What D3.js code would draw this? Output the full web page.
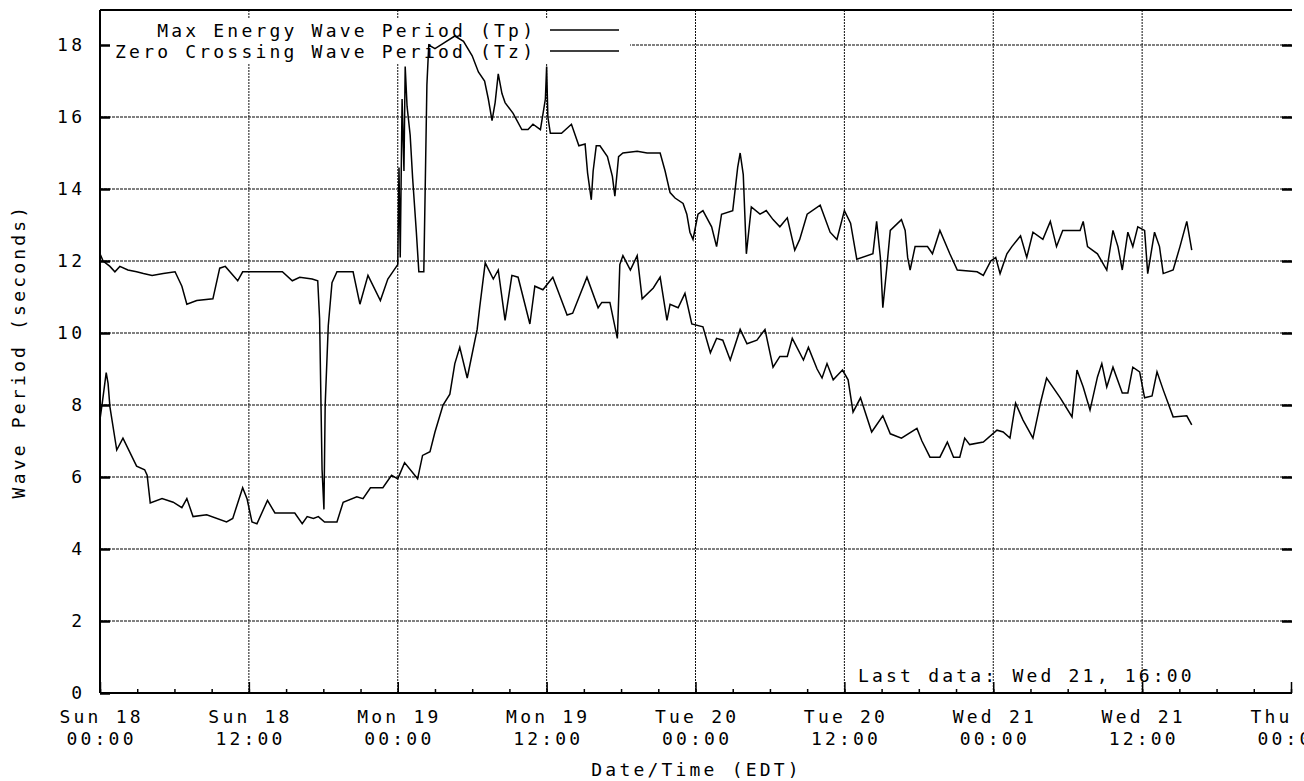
<!DOCTYPE html>
<html><head><meta charset="utf-8">
<script src="https://cdn.jsdelivr.net/npm/d3@7"></script>
<style>
html,body{margin:0;padding:0;background:#fff;overflow:hidden}
text{font-family:'DejaVu Sans Mono',monospace;font-size:18px;letter-spacing:3.2px;fill:#000}
</style></head><body><svg id="c" width="1304" height="781"></svg>
<script>
const seriesNames = ["Max Energy Wave Period (Tp)", "Zero Crossing Wave Period (Tz)"];

// Hours after Sun 18 00:00 (EDT) and wave periods in seconds
const tpHours = [0,0.25,0.8,1.2,1.6,2.25,2.95,3.5,4.2,5.1,6.05,6.6,7.0,7.8,9.1,9.65,10.1,11.1,11.5,13.4,14.7,15.5,16.1,17.1,17.55,17.7,17.9,18.05,18.15,18.4,18.7,19.1,20.4,20.95,21.6,22.6,23.2,24.0,24.1,24.2,24.35,24.5,24.6,24.75,25.0,25.2,25.5,25.7,26.1,26.25,26.35,26.5,27.0,27.7,28.6,29.3,30.0,30.5,31.0,31.3,31.6,31.85,32.1,32.4,32.65,33.3,34.0,34.5,34.9,35.5,35.9,36.0,36.1,36.3,37.2,38.0,38.6,39.1,39.3,39.6,39.75,40.0,40.3,40.9,41.3,41.5,41.8,42.15,43.3,44.1,45.15,45.55,45.95,46.35,47.0,47.3,47.55,47.8,48.2,48.6,49.3,49.7,50.1,51.0,51.4,51.6,51.85,52.1,52.5,53.2,53.7,54.25,54.8,55.4,56.0,56.4,57.0,58.05,58.85,59.4,60.0,60.5,61.0,62.3,62.6,62.9,63.1,63.4,63.7,64.6,64.9,65.1,65.3,65.7,66.7,67.1,67.7,68.5,69.1,70.7,71.2,71.8,72.2,72.55,73.1,73.5,74.2,74.7,75.2,76.0,76.6,77.1,77.6,79.0,79.25,79.6,80.4,81.15,81.65,82.05,82.4,82.85,83.25,83.65,84.2,84.45,85.0,85.4,85.7,86.5,87.05,87.6,88.0];
const tpValues = [12.2,12.0,11.85,11.7,11.85,11.75,11.7,11.65,11.6,11.65,11.7,11.3,10.8,10.9,10.95,11.8,11.85,11.45,11.7,11.7,11.7,11.45,11.55,11.5,11.45,10.4,6.2,5.1,8.0,10.2,11.4,11.7,11.7,10.8,11.6,10.9,11.5,11.9,14.6,12.1,16.5,14.5,17.4,16.3,15.5,14.3,12.8,11.7,11.7,14.8,16.9,18.0,17.9,18.05,18.25,18.1,17.7,17.25,17.0,16.5,15.9,16.4,17.2,16.65,16.4,16.1,15.65,15.65,15.8,15.65,16.5,17.4,16.0,15.55,15.55,15.8,15.2,15.25,14.45,13.7,14.5,15.2,15.2,14.9,14.35,13.8,14.9,15.0,15.05,15.0,15.0,14.5,13.9,13.75,13.6,13.3,12.8,12.6,13.3,13.4,12.95,12.4,13.3,13.4,14.6,15.0,14.4,12.2,13.5,13.3,13.4,13.15,12.95,13.2,12.3,12.6,13.3,13.55,12.8,12.6,13.4,13.05,12.05,12.2,13.1,12.1,10.7,11.75,12.85,13.15,12.85,12.1,11.75,12.4,12.4,12.2,12.85,12.2,11.75,11.7,11.6,12.0,12.1,11.65,12.2,12.4,12.7,12.1,12.8,12.6,13.1,12.4,12.85,12.85,13.1,12.4,12.2,11.75,12.85,12.4,11.75,12.8,12.4,12.95,12.85,11.65,12.8,12.4,11.65,11.75,12.4,13.1,12.3];

const tzHours = [0,0.2,0.5,0.65,0.8,1.35,1.85,2.95,3.6,3.8,4.05,5.0,5.9,6.6,7.0,7.5,8.6,10.2,10.7,11.5,11.85,12.25,12.65,13.5,14.1,15.7,16.3,16.7,17.2,17.6,18.1,19.1,19.6,20.7,21.2,21.8,22.8,23.5,24.0,24.55,25.6,26.0,26.6,27.0,27.65,28.2,28.6,29.0,29.6,30.4,30.6,31.05,31.7,32.1,32.65,33.2,33.7,34.65,35.05,35.7,36.5,37.65,38.1,39.25,40.15,40.45,41.1,41.7,41.9,42.15,42.75,43.3,43.7,44.6,45.15,45.7,45.95,46.6,47.15,47.7,48.6,49.2,49.7,50.2,50.8,51.6,52.15,52.95,53.6,54.25,54.8,55.4,55.8,56.7,57.1,57.8,58.2,58.6,59.1,59.5,59.85,60.3,60.7,61.3,62.2,63.1,63.7,64.6,65.85,66.25,66.9,67.7,68.3,68.8,69.3,69.7,70.1,71.2,72.3,72.8,73.35,73.8,74.4,75.2,75.8,76.3,77.4,78.35,78.75,79.25,79.8,80.4,80.75,81.15,81.65,82.4,82.85,83.25,83.8,84.2,84.8,85.2,85.7,86.5,87.6,88.0];
const tzValues = [7.6,8.1,8.9,8.6,7.95,6.75,7.08,6.3,6.2,6.05,5.28,5.4,5.3,5.15,5.4,4.9,4.95,4.75,4.85,5.7,5.4,4.75,4.7,5.35,5.0,5.0,4.7,4.9,4.85,4.9,4.75,4.75,5.3,5.45,5.4,5.7,5.7,6.05,5.95,6.4,5.95,6.6,6.7,7.25,8.0,8.3,9.15,9.6,8.75,10.1,10.7,11.95,11.5,11.75,10.35,11.6,11.55,10.25,11.3,11.2,11.55,10.5,10.55,11.55,10.7,10.85,10.85,9.85,11.9,12.15,11.75,12.15,10.95,11.25,11.55,10.35,10.8,10.7,11.1,10.25,10.17,9.45,9.85,9.8,9.25,10.1,9.7,9.8,10.1,9.05,9.35,9.35,9.85,9.25,9.6,9.0,8.75,9.15,8.7,8.85,8.97,8.7,7.8,8.2,7.25,7.7,7.2,7.08,7.35,7.0,6.55,6.55,6.97,6.55,6.55,7.08,6.9,6.97,7.3,7.25,7.08,8.05,7.58,7.08,8.05,8.75,8.2,7.67,8.97,8.5,7.86,8.78,9.15,8.5,9.05,8.33,8.33,9.05,8.92,8.2,8.25,8.92,8.42,7.67,7.7,7.45];

const yTicks = [0,2,4,6,8,10,12,14,16,18];
const xTickHours = [0,12,24,36,48,60,72,84,96];
const xTickDays = ["Sun 18","Sun 18","Mon 19","Mon 19","Tue 20","Tue 20","Wed 21","Wed 21","Thu 22"];
const xTickTimes = ["00:00","12:00","00:00","12:00","00:00","12:00","00:00","12:00","00:00"];
const xTitle = "Date/Time (EDT)";
const yTitle = "Wave Period (seconds)";
const lastDataLabel = "Last data: Wed 21, 16:00";

const LS = 3.2;
const start = Date.UTC(2005, 8, 18, 0, 0);
const toDate = h => new Date(start + h * 3600000);

const svg = d3.select("#c");
const L = 100, R = 1292, T = 10, B = 693;
const x = d3.scaleUtc().domain([toDate(0), toDate(96)]).range([100, 1291]);
const y = d3.scaleLinear().domain([0, 19]).range([693, 9]);

// horizontal gridlines
svg.append("g").selectAll("line").data(yTicks.filter(d => d > 0)).join("line")
  .attr("x1", L).attr("x2", R).attr("y1", d => y(d)).attr("y2", d => y(d))
  .attr("stroke", "#000").attr("stroke-width", 1).attr("stroke-dasharray", "3,1");
// vertical gridlines
svg.append("g").selectAll("line").data(xTickHours.filter(h => h > 0 && h < 96)).join("line")
  .attr("x1", h => x(toDate(h))).attr("x2", h => x(toDate(h)))
  .attr("y1", T).attr("y2", B)
  .attr("stroke", "#111").attr("stroke-width", 1).attr("stroke-dasharray", "2,1");

// legend background
svg.append("rect").attr("x", L + 1).attr("y", 19).attr("width", 529).attr("height", 44).attr("fill", "#fff");

// frame
svg.append("line").attr("x1", L).attr("x2", R).attr("y1", T).attr("y2", T).attr("stroke", "#000").attr("stroke-width", 2);
svg.append("line").attr("x1", L).attr("x2", L).attr("y1", T).attr("y2", B).attr("stroke", "#000").attr("stroke-width", 2);

// bottom axis with minor (3h) and major (12h) ticks
const xMinor = d3.axisBottom(x).ticks(d3.utcHour.every(3)).tickSize(-4).tickFormat("");
const gx = svg.append("g").attr("transform", `translate(0,${B})`).call(xMinor);
gx.select(".domain").attr("d", `M${L},0H${R}`).attr("stroke", "#000").attr("stroke-width", 2);
gx.selectAll(".tick line").attr("stroke", "#000").attr("stroke-width", 1.5);
const xMajor = d3.axisBottom(x).tickValues(xTickHours.map(toDate)).tickSize(-11).tickFormat("");
const gx2 = svg.append("g").attr("transform", `translate(0,${B})`).call(xMajor);
gx2.select(".domain").remove();
gx2.selectAll(".tick line").attr("stroke", "#000").attr("stroke-width", 1.5);

// y ticks left and right
const gy = svg.append("g").attr("transform", `translate(${L},0)`)
  .call(d3.axisRight(y).tickValues(yTicks).tickSize(10).tickFormat(""));
gy.select(".domain").remove();
gy.selectAll(".tick line").attr("stroke", "#000").attr("stroke-width", 2.5);
const gy2 = svg.append("g").attr("transform", `translate(${R},0)`)
  .call(d3.axisLeft(y).tickValues(yTicks.filter(d => d > 0)).tickSize(10).tickFormat(""));
gy2.select(".domain").remove();
gy2.selectAll(".tick line").attr("stroke", "#000").attr("stroke-width", 2.5);

// y tick labels
svg.append("g").selectAll("text").data(yTicks).join("text")
  .attr("x", 82 + LS).attr("y", d => y(d)).attr("dy", "0.36em")
  .attr("text-anchor", "end").text(d => d);

// x tick labels
const xl = svg.append("g").selectAll("g").data(xTickHours).join("g")
  .attr("transform", h => `translate(${x(toDate(h)) + LS / 2},0)`);
xl.append("text").attr("y", 723).attr("text-anchor", "middle").text((h, i) => xTickDays[i]);
xl.append("text").attr("y", 745).attr("text-anchor", "middle").text((h, i) => xTickTimes[i]);

// axis titles
svg.append("text").attr("x", 695 + LS / 2).attr("y", 776).attr("text-anchor", "middle").text(xTitle);
svg.append("text").attr("transform", "translate(25,351) rotate(-90)").attr("text-anchor", "middle").text(yTitle);

// data lines
const line = d3.line().x(d => x(toDate(d[0]))).y(d => y(d[1]));
const tp = tpHours.map((h, i) => [h, tpValues[i]]);
const tz = tzHours.map((h, i) => [h, tzValues[i]]);
[tp, tz].forEach(s => svg.append("path").datum(s).attr("d", line)
  .attr("fill", "none").attr("stroke", "#000").attr("stroke-width", 1.5).attr("stroke-linejoin", "miter"));

// legend
const legY = [37, 58];
seriesNames.forEach((n, i) => {
  svg.append("text").attr("x", 533 + LS).attr("y", legY[i]).attr("text-anchor", "end").text(n);
  svg.append("line").attr("x1", 550).attr("x2", 619).attr("y1", legY[i] - 7).attr("y2", legY[i] - 7)
    .attr("stroke", "#000").attr("stroke-width", 1.5);
});

// last data note
svg.append("text").attr("x", 858).attr("y", 682).text(lastDataLabel);
</script></body></html>
